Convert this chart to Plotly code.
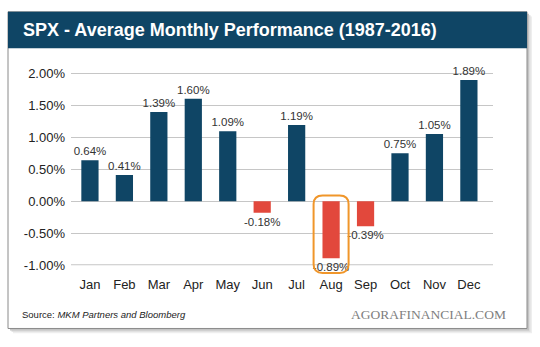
import plotly.graph_objects as go

months = ["Jan", "Feb", "Mar", "Apr", "May", "Jun", "Jul", "Aug", "Sep", "Oct", "Nov", "Dec"]
avg_perf = [0.64, 0.41, 1.39, 1.60, 1.09, -0.18, 1.19, -0.89, -0.39, 0.75, 1.05, 1.89]
y_ticks = [-1.0, -0.5, 0.0, 0.5, 1.0, 1.5, 2.0]
y_tick_labels = ["-1.00%", "-0.50%", "0.00%", "0.50%", "1.00%", "1.50%", "2.00%"]
highlight_month = "Aug"

W, H = 540, 347
BLUE = "#0f4565"
RED = "#e2483c"

def px(x):
    return x / W

def py(y):
    return 1 - y / H

# plot geometry (pixels)
PL, PR, PT, PB = 71, 493, 69, 270
x_range = [-0.55, 11.7]
y_range = [y_ticks[0], y_ticks[-1]]

colors = [BLUE if v >= 0 else RED for v in avg_perf]
labels = [f"{v:.2f}%" for v in avg_perf]

fig = go.Figure()
fig.add_trace(go.Bar(
    x=months, y=avg_perf, marker=dict(color=colors, line=dict(width=0)),
    width=0.5, text=labels, textposition="outside", cliponaxis=False,
    constraintext="none", textangle=0,
    textfont=dict(family="Liberation Sans", size=11.5, color="#333333"),
    hoverinfo="skip",
))

shapes = []
# shadow
for dx, col in [(5, "#eeeeee"), (3.5, "#dddddd"), (2, "#c4c4c4")]:
    shapes.append(dict(type="rect", xref="paper", yref="paper", layer="below",
                       x0=px(8 + dx), x1=px(527 + dx), y0=py(336 + dx), y1=py(5 + dx),
                       fillcolor=col, line=dict(width=0)))
# card
shapes.append(dict(type="rect", xref="paper", yref="paper", layer="below",
                   x0=px(8), x1=px(527), y0=py(336), y1=py(5),
                   fillcolor="white", line=dict(color="#8a8a8a", width=1)))
# title bar
shapes.append(dict(type="rect", xref="paper", yref="paper", layer="below",
                   x0=px(8), x1=px(527), y0=py(43), y1=py(5),
                   fillcolor=BLUE, line=dict(width=0)))
# thicker top / bottom gridlines
for v in (y_ticks[0], y_ticks[-1]):
    shapes.append(dict(type="line", xref="paper", yref="y", layer="below",
                       x0=px(PL), x1=px(PR), y0=v, y1=v,
                       line=dict(color="#c6c6c6", width=2)))

# highlight rounded box around Aug, computed from axis geometry
idx = months.index(highlight_month)
step = (PR - PL) / (x_range[1] - x_range[0])
cx = PL + (idx - x_range[0]) * step
yscale = (PB - PT) / (y_range[1] - y_range[0])
y_zero = PT + (y_range[1] - 0) * yscale
bx0, bx1 = cx - 17.5, cx + 17.5
by0, by1 = y_zero - 6, PB + 8
r = 9
path = (f"M {px(bx0 + r)},{py(by0)} L {px(bx1 - r)},{py(by0)} "
        f"Q {px(bx1)},{py(by0)} {px(bx1)},{py(by0 + r)} "
        f"L {px(bx1)},{py(by1 - r)} Q {px(bx1)},{py(by1)} {px(bx1 - r)},{py(by1)} "
        f"L {px(bx0 + r)},{py(by1)} Q {px(bx0)},{py(by1)} {px(bx0)},{py(by1 - r)} "
        f"L {px(bx0)},{py(by0 + r)} Q {px(bx0)},{py(by0)} {px(bx0 + r)},{py(by0)} Z")
shapes.append(dict(type="path", xref="paper", yref="paper", path=path,
                   line=dict(color="#f0962a", width=2), fillcolor="rgba(0,0,0,0)"))

annotations = [
    dict(text="<b>SPX - Average Monthly Performance (1987-2016)</b>",
         xref="paper", yref="paper", x=px(21), y=py(24), xanchor="left", yanchor="middle",
         showarrow=False, font=dict(family="Liberation Sans", size=18, color="white")),
    dict(text="Source: <i>MKM Partners and Bloomberg</i>",
         xref="paper", yref="paper", x=px(20), y=py(321), xanchor="left", yanchor="middle",
         showarrow=False, font=dict(family="Liberation Sans", size=9.5, color="#222222")),
    dict(text="AGORAFINANCIAL.COM",
         xref="paper", yref="paper", x=px(508), y=py(321), xanchor="right", yanchor="middle",
         showarrow=False, font=dict(family="Liberation Serif", size=13.5, color="#808080")),
]

fig.update_layout(
    width=W, height=H, margin=dict(l=0, r=0, t=0, b=0),
    paper_bgcolor="white", plot_bgcolor="rgba(0,0,0,0)",
    showlegend=False, shapes=shapes, annotations=annotations,
    xaxis=dict(domain=[px(PL), px(PR)], range=x_range, type="category",
               showgrid=False, zeroline=False, showline=False, ticks="",
               ticklabelstandoff=10,
               tickfont=dict(family="Liberation Sans", size=13, color="#222222")),
    yaxis=dict(domain=[py(PB), py(PT)], range=y_range, tickvals=y_ticks,
               ticktext=y_tick_labels, showgrid=True, gridcolor="#c6c6c6", gridwidth=1,
               zeroline=False, showline=False, ticks="", ticklabelstandoff=5,
               tickfont=dict(family="Liberation Sans", size=13, color="#222222")),
    bargap=0.5,
)

fig.write_html("out.html")
